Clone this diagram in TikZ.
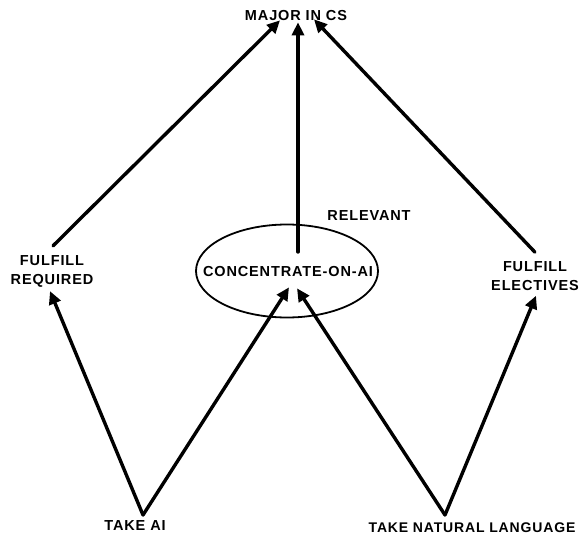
\documentclass[tikz,border=0pt]{standalone}
\usepackage{fontspec}
\setmainfont{Liberation Sans}
\newfontfamily\handcaps[LetterSpace=6]{Liberation Sans}
\usetikzlibrary{shapes.geometric,arrows.meta}
\begin{document}
\begin{tikzpicture}[x=1pt,y=-1pt,
  lbl/.style={font=\handcaps\fontsize{14.5}{15}\selectfont\bfseries, inner sep=0pt, align=center},
  link/.style={line width=3.4pt, -{Triangle[length=13pt,width=12pt]}, line cap=round},
  goalring/.style={draw, ellipse, line width=1.8pt, minimum width=182pt, minimum height=93pt}]
\useasboundingbox (0,0) rectangle (583,540);

% goal nodes
\node[lbl] (major) at (296,16) {MAJOR IN CS};
\node[goalring] (ring) at (287,271) {};
\node[lbl] (conc) at (288,272) {CONCENTRATE-ON-AI};
\node[lbl] (rel) at (369,216) {RELEVANT};
\node[lbl] (freq) at (52,271) {FULFILL\\[4pt]REQUIRED};
\node[lbl] (fel) at (535,276) {FULFILL\\[4pt]ELECTIVES};
\node[lbl] (takeai) at (135,526) {TAKE AI};
\node[lbl, font=\handcaps\fontsize{14}{15}\selectfont\bfseries] (takenl) at (472,528) {TAKE NATURAL LANGUAGE};

% junction points above the action labels
\coordinate (aiv) at (143,515);
\coordinate (nlv) at (445,515);
\coordinate (ringin) at (298,252);

% upper level
\draw[link] ([shift={(1,-9)}]freq.north) -- ([xshift=-16,yshift=1]major.south);
\draw[link] (ringin) -- ([xshift=2,yshift=-1]major.south);
\draw[link] ([shift={(0,-9)}]fel.north) -- ([xshift=18,yshift=2]major.south);

% lower level
\draw[link] (aiv) -- ([shift={(-2,4)}]freq.south);
\draw[link] (aiv) -- ([shift={(1,10)}]conc.south);
\draw[link] (nlv) -- ([shift={(9,11)}]conc.south);
\draw[link] (nlv) -- ([shift={(1,5)}]fel.south);
\end{tikzpicture}
\end{document}
